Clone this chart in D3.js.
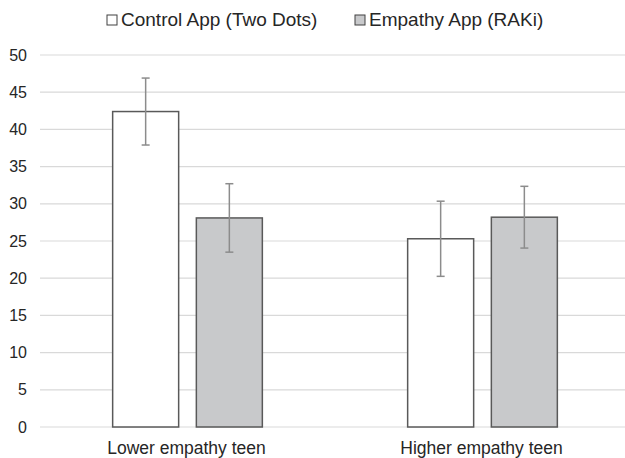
<!DOCTYPE html>
<html>
<head>
<meta charset="utf-8">
<script src="https://cdn.jsdelivr.net/npm/d3@7"></script>
<style>
  body { margin: 0; background: #fff; }
  text { font-family: "Liberation Sans", Arial, sans-serif; fill: #262626; }
</style>
</head>
<body>
<script>
var categories = ["Lower empathy teen", "Higher empathy teen"];
var seriesNames = ["Control App (Two Dots)", "Empathy App (RAKi)"];
var controlMeans = [42.4, 25.3];
var controlErr = [4.5, 5.05];
var empathyMeans = [28.1, 28.2];
var empathyErr = [4.6, 4.15];
var yTicks = [0, 5, 10, 15, 20, 25, 30, 35, 40, 45, 50];

var width = 625, height = 458;
var fills = ["#ffffff", "#c8c9cb"];

var svg = d3.select("body").append("svg")
  .attr("width", width)
  .attr("height", height);

var x = d3.scaleBand().domain(categories).range([40, 630]);
var y = d3.scaleLinear().domain([0, 50]).range([427, 55]);

// gridlines
svg.append("g").selectAll("line").data(yTicks).join("line")
  .attr("x1", 40).attr("x2", width)
  .attr("y1", function(d) { return y(d); })
  .attr("y2", function(d) { return y(d); })
  .attr("stroke", "#d9d9d9")
  .attr("stroke-width", 1.2);

// y axis labels
svg.append("g").selectAll("text").data(yTicks).join("text")
  .attr("x", 27)
  .attr("y", function(d) { return y(d); })
  .attr("dy", "0.35em")
  .attr("text-anchor", "end")
  .attr("font-size", 16)
  .text(function(d) { return d; });

var barW = 66, gap = 17.7;
var rows = [];
categories.forEach(function(c, i) {
  rows.push({ cat: c, s: 0, v: controlMeans[i], e: controlErr[i] });
  rows.push({ cat: c, s: 1, v: empathyMeans[i], e: empathyErr[i] });
});
var barX = function(d) {
  var center = x(d.cat) + x.bandwidth() / 2;
  return d.s === 0 ? center - gap / 2 - barW : center + gap / 2;
};

svg.append("g").selectAll("rect").data(rows).join("rect")
  .attr("x", barX)
  .attr("y", function(d) { return y(d.v); })
  .attr("width", barW)
  .attr("height", function(d) { return y(0) - y(d.v); })
  .attr("fill", function(d) { return fills[d.s]; })
  .attr("stroke", "#595959")
  .attr("stroke-width", 1.5);

// error bars
var eb = svg.append("g").attr("stroke", "#8c8c8c").attr("stroke-width", 1.5);
rows.forEach(function(d) {
  var cx = barX(d) + barW / 2;
  eb.append("line").attr("x1", cx).attr("x2", cx)
    .attr("y1", y(d.v + d.e)).attr("y2", y(d.v - d.e));
  [d.v + d.e, d.v - d.e].forEach(function(v) {
    eb.append("line").attr("x1", cx - 4).attr("x2", cx + 4)
      .attr("y1", y(v)).attr("y2", y(v));
  });
});

// category labels
svg.append("g").selectAll("text").data(categories).join("text")
  .attr("x", function(d) { return x(d) + x.bandwidth() / 2 - 1; })
  .attr("y", 454)
  .attr("text-anchor", "middle")
  .attr("font-size", 17.5)
  .text(function(d) { return d; });

// legend
var legX = [107, 355];
var leg = svg.append("g").selectAll("g").data(seriesNames).join("g")
  .attr("transform", function(d, i) { return "translate(" + legX[i] + ",26)"; });
leg.append("rect")
  .attr("x", 0).attr("y", -11).attr("width", 10).attr("height", 10)
  .attr("fill", function(d, i) { return fills[i]; })
  .attr("stroke", "#404040");
leg.append("text")
  .attr("x", 14)
  .attr("font-size", 19)
  .text(function(d) { return d; });
</script>
</body>
</html>
